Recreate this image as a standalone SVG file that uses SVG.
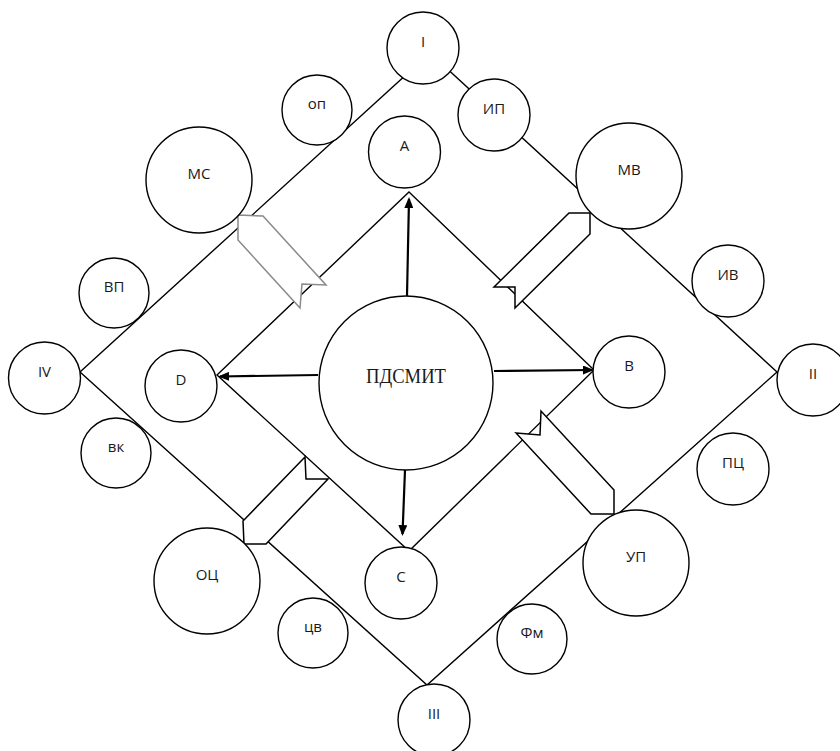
<svg xmlns="http://www.w3.org/2000/svg" width="840" height="751" viewBox="0 0 840 751">
<style>
.node circle{fill:#fff;stroke:#000;stroke-width:1.4}
.node text{font-family:"Open Sans","Liberation Sans",sans-serif;font-size:15px;fill:#1a1a1a;text-anchor:middle}
.line{fill:none;stroke:#000;stroke-width:1.4}
.arr{fill:none;stroke:#000;stroke-width:2.2}
.blk{fill:#fff;stroke:#000;stroke-width:1.5;stroke-linejoin:miter}
.blk.gray{stroke:#8a8a8a}
</style>
<defs>
<marker id="ah" markerWidth="11" markerHeight="9" refX="9" refY="4.5" orient="auto" markerUnits="userSpaceOnUse">
<path d="M0,0 L11,4.5 L0,9 z" fill="#000"/>
</marker>
</defs>
<g id="connectors">
<polygon class="line" points="430,53 777,372 427,685 80,372"/>
<polygon class="line" points="409,192 594,370 409,551 217,375"/>
<line class="arr" x1="407" y1="296" x2="409" y2="199" marker-end="url(#ah)"/>
<line class="arr" x1="318" y1="375" x2="220" y2="376.5" marker-end="url(#ah)"/>
<line class="arr" x1="494" y1="371" x2="592" y2="370" marker-end="url(#ah)"/>
<line class="arr" x1="405" y1="470" x2="402.5" y2="534" marker-end="url(#ah)"/>
<polygon class="blk gray" points="238,215 263,216 326,285 302,284 300,308 238,240"/>
<polygon class="blk" points="590,213 590,234 515,308 515,287 494,287 569,213"/>
<polygon class="blk" points="516,433 540,435 541,411 614,490 614,514 591,514"/>
<polygon class="blk" points="305,457 306,479 328,479 266,544 244,544 243,521"/>
</g>
<g id="n-I" class="node"><circle cx="423" cy="48" r="36"/><text x="423" y="47">I</text></g>
<g id="n-op" class="node"><circle cx="317" cy="110" r="35"/><text x="317" y="109">оп</text></g>
<g id="n-IP" class="node"><circle cx="494" cy="115" r="36"/><text x="494" y="114">ИП</text></g>
<g id="n-A" class="node"><circle cx="404.5" cy="152" r="36"/><text x="404.5" y="151">A</text></g>
<g id="n-MS" class="node"><circle cx="199" cy="180" r="53"/><text x="199" y="179">МС</text></g>
<g id="n-MV" class="node"><circle cx="629" cy="176" r="53"/><text x="629" y="175">МВ</text></g>
<g id="n-VP" class="node"><circle cx="114" cy="293" r="35"/><text x="114" y="292">ВП</text></g>
<g id="n-IV2" class="node"><circle cx="728" cy="281" r="36"/><text x="728" y="280">ИВ</text></g>
<g id="n-IV" class="node"><circle cx="44.5" cy="378" r="36"/><text x="44.5" y="377">IV</text></g>
<g id="n-D" class="node"><circle cx="181" cy="386" r="36"/><text x="181" y="385">D</text></g>
<g id="n-center" class="node"><circle cx="406" cy="383" r="87"/><text x="406" y="383" style="font-family:'Liberation Serif','DejaVu Serif',serif;font-size:21px" textLength="80" lengthAdjust="spacingAndGlyphs">ПДСМИТ</text></g>
<g id="n-B" class="node"><circle cx="629" cy="372" r="36"/><text x="629" y="371">B</text></g>
<g id="n-II" class="node"><circle cx="813" cy="380" r="36"/><text x="813" y="379">II</text></g>
<g id="n-vk" class="node"><circle cx="116" cy="453" r="35"/><text x="116" y="452">вк</text></g>
<g id="n-PC" class="node"><circle cx="733" cy="469" r="36"/><text x="733" y="468">ПЦ</text></g>
<g id="n-OC" class="node"><circle cx="207" cy="581" r="53"/><text x="207" y="580">ОЦ</text></g>
<g id="n-C" class="node"><circle cx="401" cy="583" r="36"/><text x="401" y="582">C</text></g>
<g id="n-UP" class="node"><circle cx="636" cy="563" r="53"/><text x="636" y="562">УП</text></g>
<g id="n-cv" class="node"><circle cx="313" cy="633" r="35"/><text x="313" y="632">цв</text></g>
<g id="n-Fm" class="node"><circle cx="532" cy="639" r="35"/><text x="532" y="638">Фм</text></g>
<g id="n-III" class="node"><circle cx="434" cy="720" r="36"/><text x="434" y="719">III</text></g>
</svg>
